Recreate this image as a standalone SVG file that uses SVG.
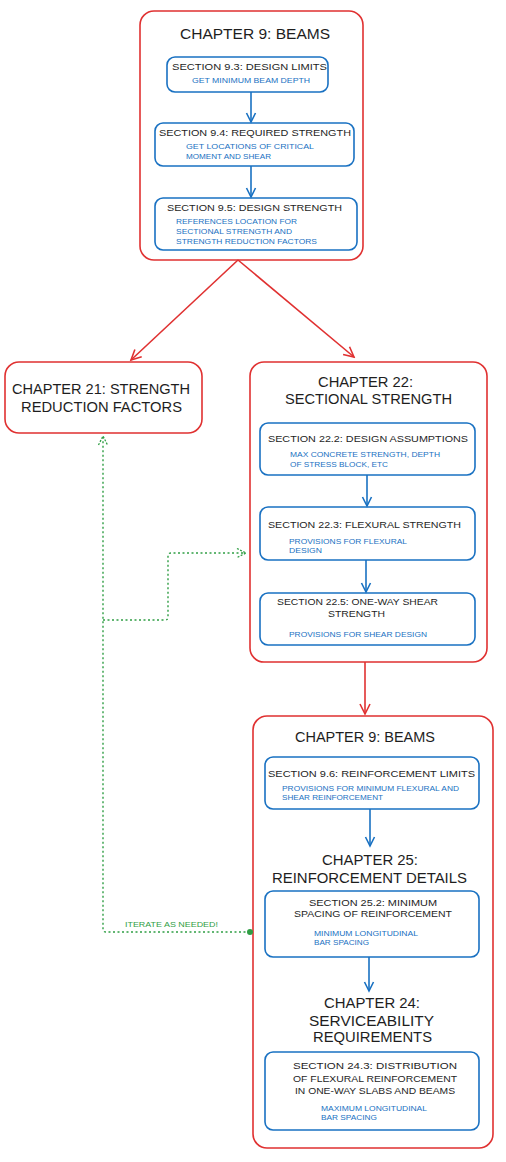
<svg xmlns="http://www.w3.org/2000/svg" width="506" height="1162" viewBox="0 0 506 1162">
<defs>
<style>
.bg{fill:#ffffff}
.chap{fill:#ffffff;stroke:#e03131;stroke-width:1.6}
.sect{fill:#ffffff;stroke:#1971c2;stroke-width:1.6}
text{font-family:"Liberation Sans","DejaVu Sans",sans-serif}
.ch{font-size:14.5px;fill:#1e1e1e}
.sec{font-size:9.3px;fill:#1e1e1e}
.body{font-size:8px;fill:#1971c2}
.lbl{font-size:8px;fill:#2f9e44}
.red{fill:none;stroke:#e03131;stroke-width:1.6}
.blue{fill:none;stroke:#1971c2;stroke-width:1.6}
.green{fill:none;stroke:#2f9e44;stroke-width:1.4;stroke-dasharray:2 2.5}
</style>
<marker id="ahRed" viewBox="-12 -7 14 14" refX="0" refY="0" markerWidth="14" markerHeight="14" markerUnits="userSpaceOnUse" orient="auto">
<path d="M-10,-5 L0,0 L-10,5" fill="none" stroke="#e03131" stroke-width="1.6"/>
</marker>
<marker id="ahBlue" viewBox="-12 -7 14 14" refX="0" refY="0" markerWidth="14" markerHeight="14" markerUnits="userSpaceOnUse" orient="auto">
<path d="M-9,-4.5 L0,0 L-9,4.5" fill="none" stroke="#1971c2" stroke-width="1.6"/>
</marker>
<marker id="ahGreen" viewBox="-12 -7 14 14" refX="0" refY="0" markerWidth="14" markerHeight="14" markerUnits="userSpaceOnUse" orient="auto">
<path d="M-9,-4.5 L0,0 L-9,4.5" fill="none" stroke="#2f9e44" stroke-width="1.3" stroke-dasharray="2 1.5"/>
</marker>
</defs>
<rect class="bg" x="0" y="0" width="506" height="1162"/>

<g id="ch9-top">
<rect class="chap" x="140" y="11" width="223" height="249" rx="14"/>
<text class="ch" x="180" y="39" textLength="150" lengthAdjust="spacingAndGlyphs">CHAPTER 9: BEAMS</text>
</g>
<g id="s9-3">
<rect class="sect" x="167" y="57" width="161" height="35" rx="8"/>
<text class="sec" x="172" y="69.5" textLength="155" lengthAdjust="spacingAndGlyphs">SECTION 9.3: DESIGN LIMITS</text>
<text class="body" x="192" y="83" textLength="118" lengthAdjust="spacingAndGlyphs">GET MINIMUM BEAM DEPTH</text>
</g>
<g id="s9-4">
<rect class="sect" x="155" y="123" width="199" height="43" rx="8"/>
<text class="sec" x="159" y="135.5" textLength="192" lengthAdjust="spacingAndGlyphs">SECTION 9.4: REQUIRED STRENGTH</text>
<text class="body" x="186" y="149" textLength="128" lengthAdjust="spacingAndGlyphs">GET LOCATIONS OF CRITICAL</text>
<text class="body" x="186" y="159" textLength="85" lengthAdjust="spacingAndGlyphs">MOMENT AND SHEAR</text>
</g>
<g id="s9-5">
<rect class="sect" x="155" y="198" width="202" height="52" rx="8"/>
<text class="sec" x="167" y="210.5" textLength="175" lengthAdjust="spacingAndGlyphs">SECTION 9.5: DESIGN STRENGTH</text>
<text class="body" x="176" y="224" textLength="121" lengthAdjust="spacingAndGlyphs">REFERENCES LOCATION FOR</text>
<text class="body" x="176" y="234" textLength="116" lengthAdjust="spacingAndGlyphs">SECTIONAL STRENGTH AND</text>
<text class="body" x="176" y="244" textLength="141" lengthAdjust="spacingAndGlyphs">STRENGTH REDUCTION FACTORS</text>
</g>

<g id="ch21">
<rect class="chap" x="5" y="362" width="197" height="71" rx="14"/>
<text class="ch" x="12" y="394" textLength="178" lengthAdjust="spacingAndGlyphs">CHAPTER 21: STRENGTH</text>
<text class="ch" x="21" y="412" textLength="161" lengthAdjust="spacingAndGlyphs">REDUCTION FACTORS</text>
</g>

<g id="ch22">
<rect class="chap" x="250" y="362" width="237" height="300" rx="14"/>
<text class="ch" x="318" y="387" textLength="95" lengthAdjust="spacingAndGlyphs">CHAPTER 22:</text>
<text class="ch" x="285" y="404" textLength="167" lengthAdjust="spacingAndGlyphs">SECTIONAL STRENGTH</text>
</g>
<g id="s22-2">
<rect class="sect" x="260" y="423" width="215" height="52" rx="8"/>
<text class="sec" x="268" y="441.5" textLength="200" lengthAdjust="spacingAndGlyphs">SECTION 22.2: DESIGN ASSUMPTIONS</text>
<text class="body" x="290" y="457" textLength="150" lengthAdjust="spacingAndGlyphs">MAX CONCRETE STRENGTH, DEPTH</text>
<text class="body" x="290" y="467" textLength="98" lengthAdjust="spacingAndGlyphs">OF STRESS BLOCK, ETC</text>
</g>
<g id="s22-3">
<rect class="sect" x="260" y="507" width="215" height="53" rx="8"/>
<text class="sec" x="268" y="527.5" textLength="193" lengthAdjust="spacingAndGlyphs">SECTION 22.3: FLEXURAL STRENGTH</text>
<text class="body" x="289" y="544" textLength="118" lengthAdjust="spacingAndGlyphs">PROVISIONS FOR FLEXURAL</text>
<text class="body" x="289" y="553" textLength="33" lengthAdjust="spacingAndGlyphs">DESIGN</text>
</g>
<g id="s22-5">
<rect class="sect" x="260" y="593" width="215" height="52" rx="8"/>
<text class="sec" x="277" y="604.5" textLength="161" lengthAdjust="spacingAndGlyphs">SECTION 22.5: ONE-WAY SHEAR</text>
<text class="sec" x="328" y="616.5" textLength="57" lengthAdjust="spacingAndGlyphs">STRENGTH</text>
<text class="body" x="289" y="637" textLength="138" lengthAdjust="spacingAndGlyphs">PROVISIONS FOR SHEAR DESIGN</text>
</g>

<g id="ch9-bottom">
<rect class="chap" x="253" y="716" width="240" height="432" rx="14"/>
<text class="ch" x="295" y="742" textLength="140" lengthAdjust="spacingAndGlyphs">CHAPTER 9: BEAMS</text>
</g>
<g id="s9-6">
<rect class="sect" x="265" y="757" width="214" height="52" rx="8"/>
<text class="sec" x="268" y="776.5" textLength="207" lengthAdjust="spacingAndGlyphs">SECTION 9.6: REINFORCEMENT LIMITS</text>
<text class="body" x="282" y="791" textLength="177" lengthAdjust="spacingAndGlyphs">PROVISIONS FOR MINIMUM FLEXURAL AND</text>
<text class="body" x="282" y="800" textLength="101" lengthAdjust="spacingAndGlyphs">SHEAR REINFORCEMENT</text>
</g>
<g id="ch25">
<text class="ch" x="322" y="865" textLength="96" lengthAdjust="spacingAndGlyphs">CHAPTER 25:</text>
<text class="ch" x="272" y="883" textLength="195" lengthAdjust="spacingAndGlyphs">REINFORCEMENT DETAILS</text>
</g>
<g id="s25-2">
<rect class="sect" x="265" y="891" width="214" height="66" rx="8"/>
<text class="sec" x="309" y="905.5" textLength="128" lengthAdjust="spacingAndGlyphs">SECTION 25.2: MINIMUM</text>
<text class="sec" x="294" y="916.5" textLength="158" lengthAdjust="spacingAndGlyphs">SPACING OF REINFORCEMENT</text>
<text class="body" x="314" y="936" textLength="104" lengthAdjust="spacingAndGlyphs">MINIMUM LONGITUDINAL</text>
<text class="body" x="314" y="945" textLength="55" lengthAdjust="spacingAndGlyphs">BAR SPACING</text>
</g>
<g id="ch24">
<text class="ch" x="324" y="1008" textLength="96" lengthAdjust="spacingAndGlyphs">CHAPTER 24:</text>
<text class="ch" x="309" y="1026" textLength="125" lengthAdjust="spacingAndGlyphs">SERVICEABILITY</text>
<text class="ch" x="313" y="1042" textLength="119" lengthAdjust="spacingAndGlyphs">REQUIREMENTS</text>
</g>
<g id="s24-3">
<rect class="sect" x="265" y="1052" width="214" height="78" rx="8"/>
<text class="sec" x="293" y="1068.5" textLength="164" lengthAdjust="spacingAndGlyphs">SECTION 24.3: DISTRIBUTION</text>
<text class="sec" x="293" y="1081.5" textLength="164" lengthAdjust="spacingAndGlyphs">OF FLEXURAL REINFORCEMENT</text>
<text class="sec" x="295" y="1093.5" textLength="160" lengthAdjust="spacingAndGlyphs">IN ONE-WAY SLABS AND BEAMS</text>
<text class="body" x="321" y="1111" textLength="106" lengthAdjust="spacingAndGlyphs">MAXIMUM LONGITUDINAL</text>
<text class="body" x="321" y="1120" textLength="56" lengthAdjust="spacingAndGlyphs">BAR SPACING</text>
</g>

<g id="connectors">
<line class="blue" x1="251" y1="92" x2="251" y2="122" marker-end="url(#ahBlue)"/>
<line class="blue" x1="251" y1="166" x2="251" y2="197" marker-end="url(#ahBlue)"/>
<line class="red" x1="238" y1="260" x2="131" y2="360" marker-end="url(#ahRed)"/>
<line class="red" x1="238" y1="260" x2="354" y2="357" marker-end="url(#ahRed)"/>
<line class="blue" x1="367" y1="475" x2="367" y2="506" marker-end="url(#ahBlue)"/>
<line class="blue" x1="366" y1="560" x2="366" y2="592" marker-end="url(#ahBlue)"/>
<line class="red" x1="365" y1="662" x2="365" y2="714" marker-end="url(#ahRed)"/>
<line class="blue" x1="370" y1="809" x2="370" y2="846" marker-end="url(#ahBlue)"/>
<line class="blue" x1="369" y1="957" x2="369" y2="991" marker-end="url(#ahBlue)"/>
<path class="green" d="M250,932 L106,932 Q103,932 103,929 L103,436" marker-end="url(#ahGreen)"/>
<path class="green" d="M103,620 L165,620 Q168,620 168,617 L168,556 Q168,553 171,553 L246,553" marker-end="url(#ahGreen)"/>
<circle cx="250" cy="932" r="3" fill="#2f9e44"/>
<text class="lbl" x="125" y="927" textLength="93" lengthAdjust="spacingAndGlyphs">ITERATE AS NEEDED!</text>
</g>
</svg>
